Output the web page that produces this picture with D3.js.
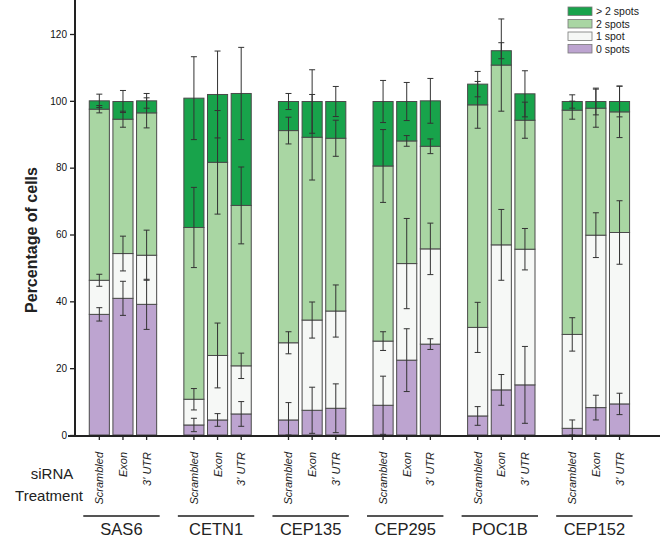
<!DOCTYPE html>
<html>
<head>
<meta charset="utf-8">
<script src="https://cdn.jsdelivr.net/npm/d3@7"></script>
<style>
  html, body { margin: 0; padding: 0; background: #fff; }
  svg { display: block; font-family: "Liberation Sans", Arial, Helvetica, sans-serif; }
</style>
</head>
<body>
<svg id="chart" width="667" height="540"></svg>
<script>
// ---- data ----
const genes = ["SAS6", "CETN1", "CEP135", "CEP295", "POC1B", "CEP152"];
const treatments = ["Scrambled", "Exon", "3' UTR"];
const seriesNames = ["0 spots", "1 spot", "2 spots", "> 2 spots"];
const yTicks = [0, 20, 40, 60, 80, 100, 120];

// segment values, order: gene x treatment (18 bars)
const zeroSpots = [36.1, 40.9, 39.1, 3.0, 4.5, 6.3, 4.5, 7.4, 8.0, 8.9, 22.4, 27.2, 5.7, 13.5, 15.0, 2.0, 8.2, 9.3];
const oneSpot   = [10.2, 13.4, 14.7, 7.7, 19.3, 14.4, 23.1, 27.0, 29.1, 19.2, 28.9, 28.5, 26.5, 43.4, 40.6, 28.1, 51.6, 51.3];
const twoSpots  = [51.2, 40.2, 42.6, 51.4, 57.8, 48.0, 63.5, 54.7, 51.7, 52.4, 36.7, 30.7, 66.6, 53.8, 38.6, 67.1, 38.0, 36.1];
const moreSpots = [2.5, 5.3, 3.6, 38.7, 20.3, 33.5, 8.7, 10.7, 11.0, 19.3, 11.8, 13.6, 6.2, 4.3, 7.9, 2.6, 2.0, 3.1];

// error (+/-) at the top of each segment
const errZero = [2.0, 5.1, 7.5, 2.0, 1.9, 3.7, 5.2, 6.9, 7.3, 8.7, 9.4, 1.6, 2.8, 4.6, 11.5, 2.5, 3.7, 3.2];
const errOne  = [1.8, 5.2, 7.5, 3.2, 9.7, 3.8, 3.3, 5.4, 7.8, 2.8, 13.5, 7.7, 7.5, 10.6, 6.2, 5.0, 6.7, 9.5];
const errTwo  = [1.1, 2.4, 4.5, 12.0, 15.5, 11.5, 4.0, 12.8, 5.4, 10.9, 1.6, 2.2, 7.0, 13.8, 5.4, 2.7, 5.7, 7.7];
const errMore = [2.0, 3.3, 2.2, 12.4, 13.0, 13.8, 2.4, 9.5, 4.5, 6.3, 5.7, 6.7, 3.8, 2.4, 6.9, 2.0, 4.0, 4.6];

const colors = ["#bda4d0", "#f6f8f6", "#a9d6a3", "#18a34b"];

// ---- build table ----
const rows = [];
genes.forEach((g, gi) => {
  treatments.forEach((t, ti) => {
    const i = gi * 3 + ti;
    rows.push({
      key: g + "|" + t, gene: g, treatment: t,
      "0 spots": zeroSpots[i], "1 spot": oneSpot[i], "2 spots": twoSpots[i], "> 2 spots": moreSpots[i],
      errs: [errZero[i], errOne[i], errTwo[i], errMore[i]]
    });
  });
});

// slot keys: 3 bars + 1 spacer per gene
const slots = [];
genes.forEach(g => { treatments.forEach(t => slots.push(g + "|" + t)); slots.push(g + "|_gap"); });

const svg = d3.select("#chart");
const x = d3.scaleBand().domain(slots).range([87.5, 655]).paddingInner(0.15).paddingOuter(0.075);
const y = d3.scaleLinear().domain([0, 120]).range([435, 34]);

const stack = d3.stack().keys(seriesNames);
const stacked = stack(rows);

// bars
const layers = svg.append("g").selectAll("g").data(stacked).join("g")
  .attr("fill", (d, i) => colors[i]);
layers.selectAll("rect").data(d => d).join("rect")
  .attr("x", d => x(d.data.key))
  .attr("width", x.bandwidth())
  .attr("y", d => y(d[1]))
  .attr("height", d => y(d[0]) - y(d[1]))
  .attr("stroke", "#4a4a4a")
  .attr("stroke-width", 1);

// error bars
const errG = svg.append("g").attr("stroke", "#333").attr("stroke-width", 1);
stacked.forEach((layer, si) => {
  layer.forEach(d => {
    const cx = x(d.data.key) + x.bandwidth() / 2;
    const e = d.data.errs[si];
    const top = d[1];
    const lo = Math.max(0, top - e), hi = top + e;
    errG.append("line").attr("x1", cx).attr("x2", cx).attr("y1", y(lo)).attr("y2", y(hi));
    errG.append("line").attr("x1", cx - 3).attr("x2", cx + 3).attr("y1", y(hi)).attr("y2", y(hi));
    errG.append("line").attr("x1", cx - 3).attr("x2", cx + 3).attr("y1", y(lo)).attr("y2", y(lo));
  });
});

// y axis
const yAxis = svg.append("g").attr("transform", "translate(75,0)")
  .call(d3.axisLeft(y).tickValues(yTicks).tickSize(5).tickPadding(3));
yAxis.select(".domain").remove();
yAxis.selectAll(".tick line").attr("stroke", "#222").attr("stroke-width", 1.3);
yAxis.selectAll("text").attr("font-size", 10).attr("fill", "#111");
svg.append("line").attr("x1", 75).attr("x2", 75).attr("y1", 0).attr("y2", 436.5)
  .attr("stroke", "#222").attr("stroke-width", 2);

// x axis
const xAxis = svg.append("g").attr("transform", "translate(0,436)")
  .call(d3.axisBottom(x).tickValues(rows.map(r => r.key)).tickSize(4).tickFormat(""));
xAxis.select(".domain").remove();
xAxis.selectAll(".tick line").attr("stroke", "#222").attr("stroke-width", 1.3);
svg.append("line").attr("x1", 68).attr("x2", 660).attr("y1", 436).attr("y2", 436)
  .attr("stroke", "#222").attr("stroke-width", 2);

// rotated treatment labels
svg.append("g").selectAll("text").data(rows).join("text")
  .attr("transform", d => `translate(${x(d.key) + x.bandwidth() / 2 + 4},452) rotate(-90)`)
  .attr("text-anchor", "end")
  .attr("font-size", 11)
  .attr("font-style", "italic")
  .attr("fill", "#222")
  .text(d => d.treatment);

// y title
svg.append("text")
  .attr("transform", "translate(37,240) rotate(-90)")
  .attr("text-anchor", "middle")
  .attr("font-size", 16)
  .attr("font-weight", "bold")
  .attr("fill", "#222")
  .text("Percentage of cells");

// siRNA treatment label
svg.append("text").attr("x", 52).attr("y", 479).attr("text-anchor", "middle")
  .attr("font-size", 15).attr("fill", "#222").text("siRNA");
svg.append("text").attr("x", 49).attr("y", 501).attr("text-anchor", "middle")
  .attr("font-size", 15).attr("fill", "#222").text("Treatment");

// gene group lines and labels
genes.forEach(g => {
  const x0 = x(g + "|" + treatments[0]) - 6;
  const x1 = x(g + "|" + treatments[2]) + x.bandwidth() + 3;
  svg.append("line").attr("x1", x0).attr("x2", x1).attr("y1", 516).attr("y2", 516)
    .attr("stroke", "#555").attr("stroke-width", 2);
  svg.append("text").attr("x", (x0 + x1) / 2).attr("y", 535).attr("text-anchor", "middle")
    .attr("font-size", 16.5).attr("fill", "#222").text(g);
});

// legend
const legendOrder = [3, 2, 1, 0];
const lg = svg.append("g").attr("transform", "translate(568,7)");
legendOrder.forEach((si, k) => {
  const row = lg.append("g").attr("transform", `translate(0,${k * 12.5})`);
  row.append("rect").attr("width", 24).attr("height", 8.5)
    .attr("fill", colors[si]).attr("stroke", "#777").attr("stroke-width", 0.8);
  row.append("text").attr("x", 28).attr("y", 8).attr("font-size", 10.5).attr("fill", "#222")
    .text(seriesNames[si]);
});
</script>
</body>
</html>
